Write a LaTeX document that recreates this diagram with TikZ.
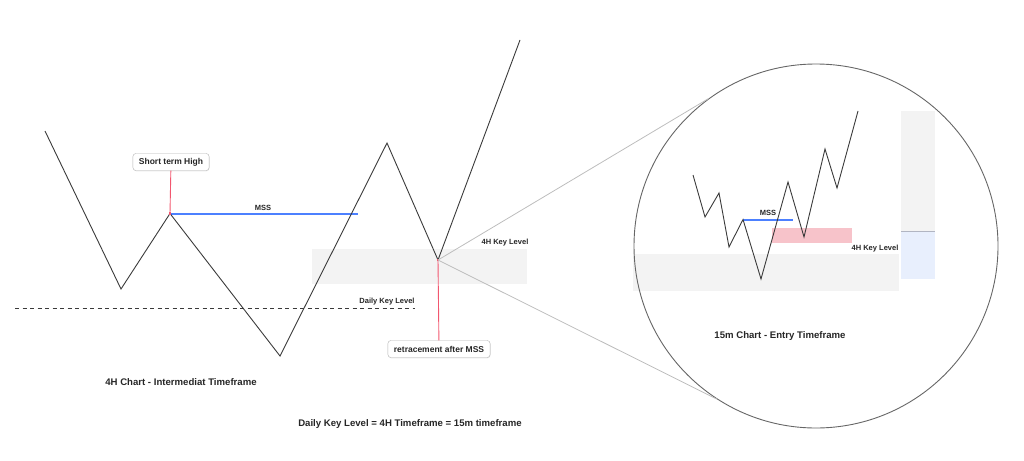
\documentclass[tikz,border=0pt]{standalone}
\usepackage{fontspec}
\setmainfont{Liberation Sans}
\usetikzlibrary{shadows,calc}
\definecolor{keygray}{HTML}{F3F3F3}
\definecolor{mssblue}{rgb}{0.3,0.5,1}
\definecolor{markred}{HTML}{F2576F}
\definecolor{entrypink}{HTML}{F7C3CA}
\definecolor{barblue}{HTML}{E8EFFD}
\definecolor{barline}{HTML}{B1B5C2}
\definecolor{linkgray}{HTML}{BDBDBD}
\definecolor{pricecol}{HTML}{3A3A3A}
\tikzset{
 price/.style={draw=pricecol, line width=0.9pt, line join=miter},
 msslevel/.style={draw=mssblue, line width=2pt},
 callout/.style={draw=black!30, fill=white, rounded corners=3pt, inner xsep=6pt,
  minimum height=17pt, font=\bfseries\fontsize{8.5}{10}\selectfont,
  drop shadow={opacity=0.18, shadow xshift=0.4pt, shadow yshift=-0.8pt}},
 caption/.style={font=\bfseries\fontsize{9.6}{11}\selectfont}
}
\newcommand{\callout}[3]{%
 \node[callout] ({#1}) at ({#2}) {#3};%
}
\newcommand{\redmark}[1]{%
 \fill[markred] ($(#1)+(-1.3,-1.3)$) rectangle ($(#1)+(1.3,1.3)$);%
}
\begin{document}
\begin{tikzpicture}[x=1pt,y=-1pt,every node/.style={text=black!85, font=\bfseries\fontsize{7.5}{9}\selectfont}]
   \useasboundingbox (0,0) rectangle (1024,460);
   % key zones
   \fill[keygray] (312,249) rectangle (527,284);
   \fill[keygray] (633,254) rectangle (899,291);
   \fill[keygray] (901,111) rectangle (935,231);
   \fill[barblue] (901,232) rectangle (935,279);
   \draw[barline, line width=1.2pt] (901,231.5) -- (935,231.5);
   \fill[entrypink] (772,228) rectangle (852,243);
   % 4H chart
   \coordinate (hi) at (170,213.5);
   \coordinate (pb) at (438,260);
   \coordinate (mssend) at (358,213.5);
   \draw[dashed, dash pattern=on 4pt off 3.5pt, pricecol, line width=0.7pt] (15,308) -- (415,308);
   \draw[msslevel] (hi) -- (mssend);
   \draw[price] (45,131) -- (121,289) -- (hi) -- (280,356) -- (387,143) -- (pb) -- (520,40);
   \node (mss) at (263,208) {MSS};
   \node (daily) at (387,302) {Daily Key Level};
   \node (key4h) at (505,243) {4H Key Level};
   \callout{sth}{171,162}{Short term High};
   \callout{retr}{439,349}{retracement after MSS};
   \draw[markred, line width=0.9pt] (sth) -- (hi);
   \draw[markred, line width=0.9pt] (retr) -- (pb);
   \redmark{hi}
   \redmark{pb}
   % zoom circle
   \node[circle, draw=black!60, line width=0.9pt, minimum size=364pt, inner sep=0pt] (lens) at (816,246) {};
   \draw[linkgray, line width=0.8pt] (pb) -- (lens.126);
   \draw[linkgray, line width=0.8pt] (pb) -- (lens.237);
   % 15m chart
   \coordinate (lo15) at (743,219.5);
   \coordinate (mss15end) at (793,219.5);
   \draw[msslevel] (lo15) -- (mss15end);
   \draw[price] (693,175) -- (705,217) -- (719,193) -- (729,247) -- (lo15) -- (761,279)
    -- (788,182) -- (804,237) -- (825,149) -- (837,188) -- (858,111);
   \node (mss2) at (768,213) {MSS};
   \node (key15) at (875,249) {4H Key Level};
   % captions
   \node[caption] (cap4h) at (181,382) {4H Chart - Intermediat Timeframe};
   \node[caption] (cap15) at (780,336) {15m Chart - Entry Timeframe};
   \node[caption] (capall) at (410,424) {Daily Key Level = 4H Timeframe = 15m timeframe};
\end{tikzpicture}
\end{document}
